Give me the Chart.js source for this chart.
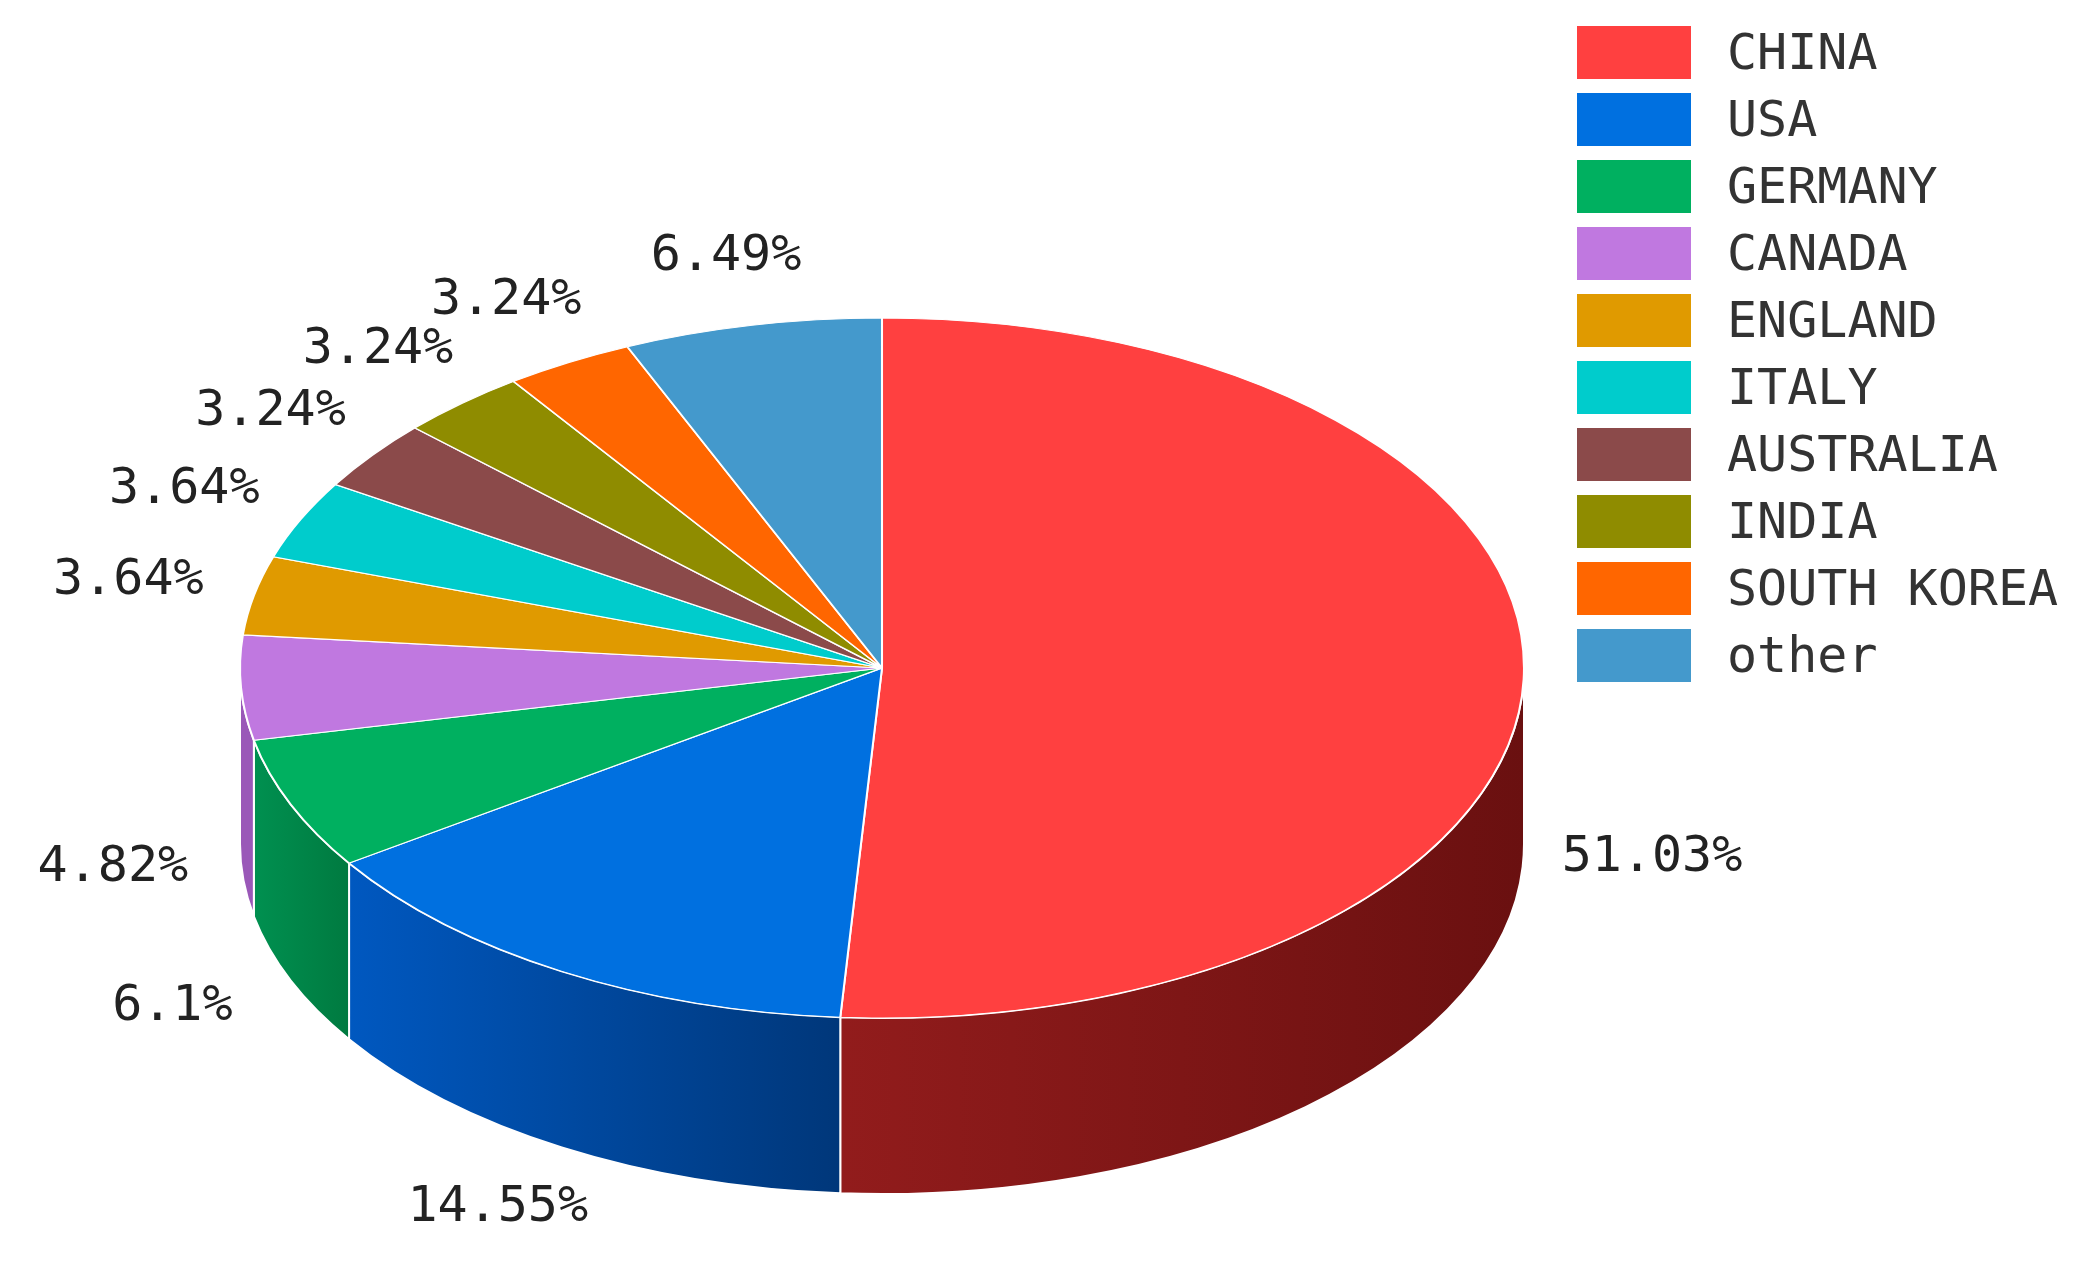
<!DOCTYPE html>
<html>
<head>
<meta charset="utf-8">
<script src="https://cdn.jsdelivr.net/npm/chart.js@4/dist/chart.umd.min.js"></script>
<style>
  body { margin: 0; background: #fff; }
  #wrap { position: relative; width: 2075px; height: 1264px; }
  #legend { position: absolute; left: 1577px; top: 26px; font-family: "DejaVu Sans Mono", monospace; font-size: 50px; color: #333; }
  .item { height: 67px; display: flex; align-items: flex-start; }
  .box { width: 114px; height: 53px; margin-right: 36px; }
  .item span { line-height: 53px; }
</style>
</head>
<body>
<div id="wrap">
  <canvas id="pie" width="2075" height="1264"></canvas>
  <div id="legend"></div>
</div>
<script>
const countries = ["CHINA", "USA", "GERMANY", "CANADA", "ENGLAND", "ITALY", "AUSTRALIA", "INDIA", "SOUTH KOREA", "other"];
const shares = [51.03, 14.55, 6.1, 4.82, 3.64, 3.64, 3.24, 3.24, 3.24, 6.49];
const colors = ["#ff4040", "#0070e0", "#00b060", "#c078e0", "#e09a00", "#00cccc", "#8b4a4a", "#8f8c00", "#ff6600", "#4499cc"];
const wallColors = [["#921c1c", "#6a1010"], ["#0058c0", "#00377a"], ["#009050", "#007a40"], ["#9a58b8", "#9a58b8"]];

// ellipse geometry of the 3D pie
const CX = 882, CY = 668, RX = 642, RY = 350, DEPTH = 176;

const legend = document.getElementById("legend");
countries.forEach((c, i) => {
  legend.innerHTML += `<div class="item"><div class="box" style="background:${colors[i]}"></div><span>${c}</span></div>`;
});

const pie3d = {
  id: "pie3d",
  beforeDatasetsDraw(chart) {
    const ctx = chart.ctx;
    const meta = chart.getDatasetMeta(0);
    // side walls, front half only
    meta.data.forEach((el, i) => {
      const lo = Math.max(el.startAngle, 0);
      const hi = Math.min(el.endAngle, Math.PI);
      if (lo >= hi) return;
      const x1 = CX + RX * Math.cos(lo), x2 = CX + RX * Math.cos(hi);
      const g = ctx.createLinearGradient(Math.min(x1, x2), 0, Math.max(x1, x2), 0);
      const wc = wallColors[i] || [colors[i], colors[i]];
      g.addColorStop(0, x1 > x2 ? wc[0] : wc[1]);
      g.addColorStop(1, x1 > x2 ? wc[1] : wc[0]);
      ctx.beginPath();
      ctx.ellipse(CX, CY, RX, RY, 0, lo, hi);
      ctx.lineTo(CX + RX * Math.cos(hi), CY + RY * Math.sin(hi) + DEPTH);
      ctx.ellipse(CX, CY + DEPTH, RX, RY, 0, hi, lo, true);
      ctx.closePath();
      ctx.fillStyle = g;
      ctx.fill();
      ctx.strokeStyle = "#fff";
      ctx.lineWidth = 2;
      ctx.stroke();
    });
    const a0 = meta.data[0];
    ctx.save();
    ctx.translate(CX, CY);
    ctx.scale(RX / a0.outerRadius, RY / a0.outerRadius);
    ctx.translate(-a0.x, -a0.y);
  },
  afterDatasetsDraw(chart) {
    const ctx = chart.ctx;
    ctx.restore();
    const meta = chart.getDatasetMeta(0);
    ctx.font = '50px "DejaVu Sans Mono", monospace';
    ctx.fillStyle = "#222";
    ctx.textAlign = "center";
    ctx.textBaseline = "middle";
    meta.data.forEach((el, i) => {
      const m = (el.startAngle + el.endAngle) / 2;
      const c = Math.cos(m), s = Math.sin(m);
      const x = CX + RX * 1.2 * c;
      const y = s > 0 ? CY + DEPTH + RY * 1.2 * s : CY + RY * 1.2 * s;
      ctx.fillText(shares[i] + "%", x, y);
    });
  }
};

new Chart(document.getElementById("pie"), {
  type: "pie",
  data: {
    labels: countries,
    datasets: [{ data: shares, backgroundColor: colors, borderColor: "#fff", borderWidth: 2 }]
  },
  options: {
    responsive: false,
    animation: false,
    devicePixelRatio: 1,
    plugins: { legend: { display: false }, tooltip: { enabled: false } },
    events: []
  },
  plugins: [pie3d]
});
</script>
</body>
</html>
